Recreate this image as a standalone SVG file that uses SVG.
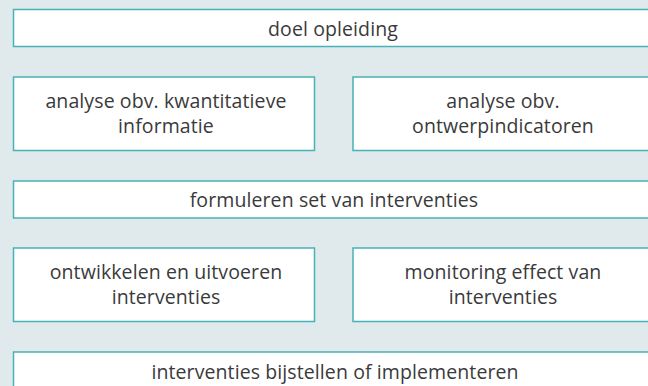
<svg xmlns="http://www.w3.org/2000/svg" width="648" height="386" viewBox="0 0 648 386">
<style>
.bx{fill:#ffffff;stroke:#45b2b8;stroke-width:1.5}
.t{font-family:"Open Sans","Noto Sans",sans-serif;font-size:19.5px;fill:#3a3a3a;text-anchor:middle;font-weight:400;letter-spacing:0.1px}
</style>
<rect width="648" height="386" fill="#e0eaec"/>
<g id="n1"><rect class="bx" x="13.5" y="9.5" width="642" height="37"/><text class="t" x="333" y="36">doel opleiding</text></g>
<g id="n2"><rect class="bx" x="13.5" y="77" width="301" height="73.5"/><text class="t" x="166" y="108">analyse obv. kwantitatieve</text><text class="t" x="166" y="133">informatie</text></g>
<g id="n3"><rect class="bx" x="353" y="77" width="302" height="73.5"/><text class="t" x="503" y="108">analyse obv.</text><text class="t" x="503" y="133">ontwerpindicatoren</text></g>
<g id="n4"><rect class="bx" x="13.5" y="181" width="642" height="37"/><text class="t" x="334" y="207">formuleren set van interventies</text></g>
<g id="n5"><rect class="bx" x="13.5" y="248" width="301" height="73.5"/><text class="t" x="166" y="279">ontwikkelen en uitvoeren</text><text class="t" x="166" y="304">interventies</text></g>
<g id="n6"><rect class="bx" x="353" y="248" width="302" height="73.5"/><text class="t" x="503" y="279">monitoring effect van</text><text class="t" x="503" y="304">interventies</text></g>
<g id="n7"><rect class="bx" x="13.5" y="352" width="642" height="40"/><text class="t" x="335" y="379">interventies bijstellen of implementeren</text></g>
<g id="connectors"></g>
</svg>
